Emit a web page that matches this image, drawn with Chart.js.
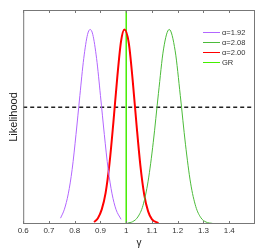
<!DOCTYPE html>
<html>
<head>
<meta charset="utf-8">
<script src="https://cdn.jsdelivr.net/npm/chart.js@4"></script>
<style>
  html, body { margin: 0; padding: 0; background: #fff; }
  #wrap { width: 274px; height: 249px; }
</style>
</head>
<body>
<div id="wrap"><canvas id="likelihood"></canvas></div>
<script>
// values
var xTicks = [0.6, 0.7, 0.8, 0.9, 1.0, 1.1, 1.2, 1.3, 1.4];

var gammaA192 = [0.745, 0.76, 0.775, 0.79, 0.805, 0.82, 0.835, 0.85, 0.86, 0.87, 0.885, 0.90, 0.915, 0.93, 0.945, 0.96, 0.98];
var likeA192  = [0.03, 0.076, 0.155, 0.28, 0.46, 0.66, 0.85, 0.975, 1.0, 0.975, 0.85, 0.66, 0.46, 0.28, 0.155, 0.076, 0.024];

var gammaA208 = [1.005, 1.025, 1.045, 1.065, 1.085, 1.105, 1.125, 1.145, 1.167, 1.19, 1.21, 1.23, 1.25, 1.27, 1.29, 1.31, 1.335];
var likeA208  = [0.005, 0.012, 0.036, 0.095, 0.22, 0.42, 0.67, 0.90, 1.0, 0.89, 0.66, 0.41, 0.21, 0.09, 0.032, 0.01, 0.003];

var gammaA200 = [0.875, 0.89, 0.905, 0.92, 0.935, 0.95, 0.965, 0.98, 0.993, 1.01, 1.025, 1.04, 1.055, 1.07, 1.085, 1.10, 1.125];
var likeA200  = [0.01, 0.03, 0.075, 0.16, 0.31, 0.52, 0.75, 0.94, 1.0, 0.93, 0.74, 0.51, 0.30, 0.15, 0.065, 0.024, 0.005];

var grGamma = 1.0;
var cutLevel = 0.6;

function pts(xs, ys) {
  return xs.map(function (x, i) { return {x: x, y: ys[i]}; });
}

// inward ticks on top and bottom, plus full box
var boxTicks = {
  id: 'boxTicks',
  afterDraw: function (chart) {
    var c = chart.ctx, a = chart.chartArea, sx = chart.scales.x;
    c.save();
    c.strokeStyle = '#777';
    c.lineWidth = 1;
    c.strokeRect(a.left + 0.5, a.top + 0.5, a.right - a.left - 1, a.bottom - a.top - 1);
    xTicks.forEach(function (t) {
      var px = Math.round(sx.getPixelForValue(t)) + 0.5;
      c.beginPath();
      c.moveTo(px, a.bottom); c.lineTo(px, a.bottom - 3);
      c.moveTo(px, a.top); c.lineTo(px, a.top + 3);
      c.stroke();
    });
    c.restore();
  }
};

// small legend in the upper right of the plot
var cornerLegend = {
  id: 'cornerLegend',
  afterDraw: function (chart) {
    var c = chart.ctx, a = chart.chartArea;
    var x0 = a.right - 52, y0 = a.top + 22;
    c.save();
    c.font = '7.5px "Liberation Sans", Arial, sans-serif';
    c.textBaseline = 'middle';
    chart.data.datasets.forEach(function (ds, i) {
      if (!ds.legend) return;
      var y = y0 + i * 10;
      c.strokeStyle = ds.borderColor;
      c.lineWidth = 1;
      c.beginPath(); c.moveTo(x0, y + 0.5); c.lineTo(x0 + 17, y + 0.5); c.stroke();
      c.fillStyle = '#333';
      c.fillText(ds.label, x0 + 19, y + 0.5);
    });
    c.restore();
  }
};

var ctx = document.getElementById('likelihood');
new Chart(ctx, {
  type: 'line',
  data: {
    datasets: [
      {label: 'α=1.92', data: pts(gammaA192, likeA192), borderColor: '#b266ff', borderWidth: 1, legend: true},
      {label: 'α=2.08', data: pts(gammaA208, likeA208), borderColor: '#4cbb3a', borderWidth: 1, legend: true},
      {label: 'α=2.00', data: pts(gammaA200, likeA200), borderColor: '#ff0000', borderWidth: 2, legend: true},
      {label: 'GR', data: [{x: grGamma, y: 0}, {x: grGamma, y: 1.1}], borderColor: '#44ee00', borderWidth: 1.5, legend: true},
      {label: 'cut', data: [{x: 0.6, y: cutLevel}, {x: 1.5, y: cutLevel}], borderColor: '#222', borderWidth: 1.5, borderDash: [4, 3]}
    ]
  },
  options: {
    responsive: true,
    maintainAspectRatio: false,
    animation: false,
    layout: {padding: {left: 7, right: 19, top: 10, bottom: 1}},
    elements: {
      point: {radius: 0},
      line: {tension: 0.35, cubicInterpolationMode: 'monotone'}
    },
    plugins: {
      legend: {display: false},
      tooltip: {enabled: false}
    },
    scales: {
      x: {
        type: 'linear',
        min: 0.6,
        max: 1.5,
        afterBuildTicks: function (s) { s.ticks = xTicks.map(function (v) { return {value: v}; }); },
        grid: {display: false, drawTicks: false},
        border: {display: false},
        ticks: {
          color: '#333',
          padding: 3,
          maxRotation: 0,
          font: {family: '"Liberation Sans", Arial, sans-serif', size: 8, lineHeight: 1},
          callback: function (v) { return String(Math.round(v * 10) / 10); }
        },
        title: {display: true, text: 'γ', color: '#222', padding: {top: 0, bottom: 0},
          font: {family: '"Liberation Sans", Arial, sans-serif', size: 10, lineHeight: 1}}
      },
      y: {
        min: 0,
        max: 1.1,
        grid: {display: false, drawTicks: false},
        border: {display: false},
        ticks: {display: false},
        title: {display: true, text: 'Likelihood', color: '#222', padding: {top: 0, bottom: 3},
          font: {family: '"Liberation Sans", Arial, sans-serif', size: 11}}
      }
    }
  },
  plugins: [boxTicks, cornerLegend]
});
</script>
</body>
</html>
